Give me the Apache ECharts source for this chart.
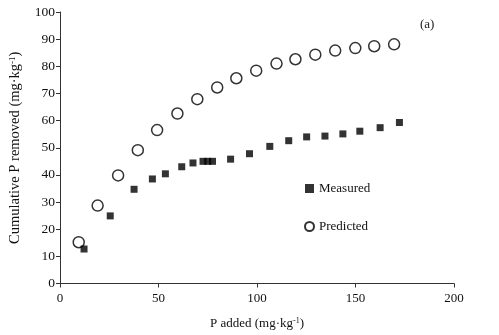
<!DOCTYPE html>
<html><head><meta charset="utf-8">
<script src="https://cdn.jsdelivr.net/npm/echarts@6/dist/echarts.min.js"></script>
<style>html,body{margin:0;padding:0;background:#fff}#c{width:499px;height:335px}</style>
</head><body><div id="c"></div>
<script>
var measuredX = [12.2, 25.5, 37.6, 46.9, 53.5, 61.8, 67.5, 72.6, 75.0, 77.4, 86.6, 96.2, 106.5, 116.1, 125.2, 134.5, 143.6, 152.2, 162.5, 172.3];
var measuredY = [12.7, 24.9, 34.7, 38.5, 40.4, 43.0, 44.4, 45.0, 45.0, 45.0, 45.8, 47.8, 50.5, 52.6, 54.0, 54.3, 55.1, 56.1, 57.4, 59.3];
var predictedX = [9.5, 19.1, 29.5, 39.5, 49.3, 59.6, 69.7, 79.8, 89.5, 99.6, 109.9, 119.5, 129.6, 139.7, 149.9, 159.5, 169.6];
var predictedY = [15.2, 28.7, 39.8, 49.1, 56.5, 62.6, 67.9, 72.2, 75.6, 78.4, 81.0, 82.6, 84.3, 85.8, 86.7, 87.4, 88.1];
var xTicks = [0, 50, 100, 150, 200];
var yTicks = [0, 10, 20, 30, 40, 50, 60, 70, 80, 90, 100];

function pairs(xs, ys){ return xs.map(function(x,i){ return [x, ys[i]]; }); }
var font = 'Liberation Serif';
var chart = echarts.init(document.getElementById('c'));
var rich = { sup: { fontSize: 8, verticalAlign: 'top', padding: [0,0,6,0], fontFamily: font, color: '#111' } };
var richY = { sup: { fontSize: 9, verticalAlign: 'top', padding: [0,0,6,0], fontFamily: font, color: '#111' } };
chart.setOption({
  animation: false,
  backgroundColor: '#fff',
  textStyle: { fontFamily: font, color: '#111' },
  title: { text: '(a)', left: 415, top: 13, textStyle: { fontFamily: font, fontSize: 13, fontWeight: 'normal', color: '#222' } },
  grid: { left: 59, right: 45, top: 12, bottom: 51, containLabel: false },
  legend: {
    orient: 'vertical', left: 299, top: 177, itemGap: 25, itemWidth: 9, itemHeight: 9,
    textStyle: { fontFamily: font, fontSize: 13, color: '#111' },
    data: ['Measured', 'Predicted']
  },
  xAxis: {
    type: 'value', min: xTicks[0], max: xTicks[xTicks.length-1], interval: 50,
    name: 'P added (mg·kg{sup|-1})', nameLocation: 'middle', nameGap: 33,
    nameTextStyle: { fontFamily: font, fontSize: 13, color: '#111', rich: rich },
    axisLine: { lineStyle: { color: '#333', width: 1 } },
    axisTick: { show: true, length: 4, lineStyle: { color: '#333' } },
    axisLabel: { fontFamily: font, fontSize: 13, color: '#111', margin: 9 },
    splitLine: { show: false }
  },
  yAxis: {
    type: 'value', min: yTicks[0], max: yTicks[yTicks.length-1], interval: 10,
    name: 'Cumulative P removed (mg·kg{sup|-1})', nameLocation: 'middle', nameGap: 37,
    nameTextStyle: { fontFamily: font, fontSize: 14.5, color: '#111', rich: richY },
    axisLine: { show: true, lineStyle: { color: '#333', width: 1 } },
    axisTick: { show: true, length: 4, lineStyle: { color: '#333' } },
    axisLabel: { fontFamily: font, fontSize: 13.5, color: '#111', margin: 5 },
    splitLine: { show: false }
  },
  series: [
    { name: 'Measured', type: 'scatter', symbol: 'rect', symbolSize: 7,
      itemStyle: { color: '#000' }, data: pairs(measuredX, measuredY), z: 3 },
    { name: 'Predicted', type: 'scatter', symbol: 'circle', symbolSize: 11,
      itemStyle: { color: '#fff', borderColor: '#000', borderWidth: 1.5 }, data: pairs(predictedX, predictedY), z: 2 }
  ]
});
</script></body></html>
